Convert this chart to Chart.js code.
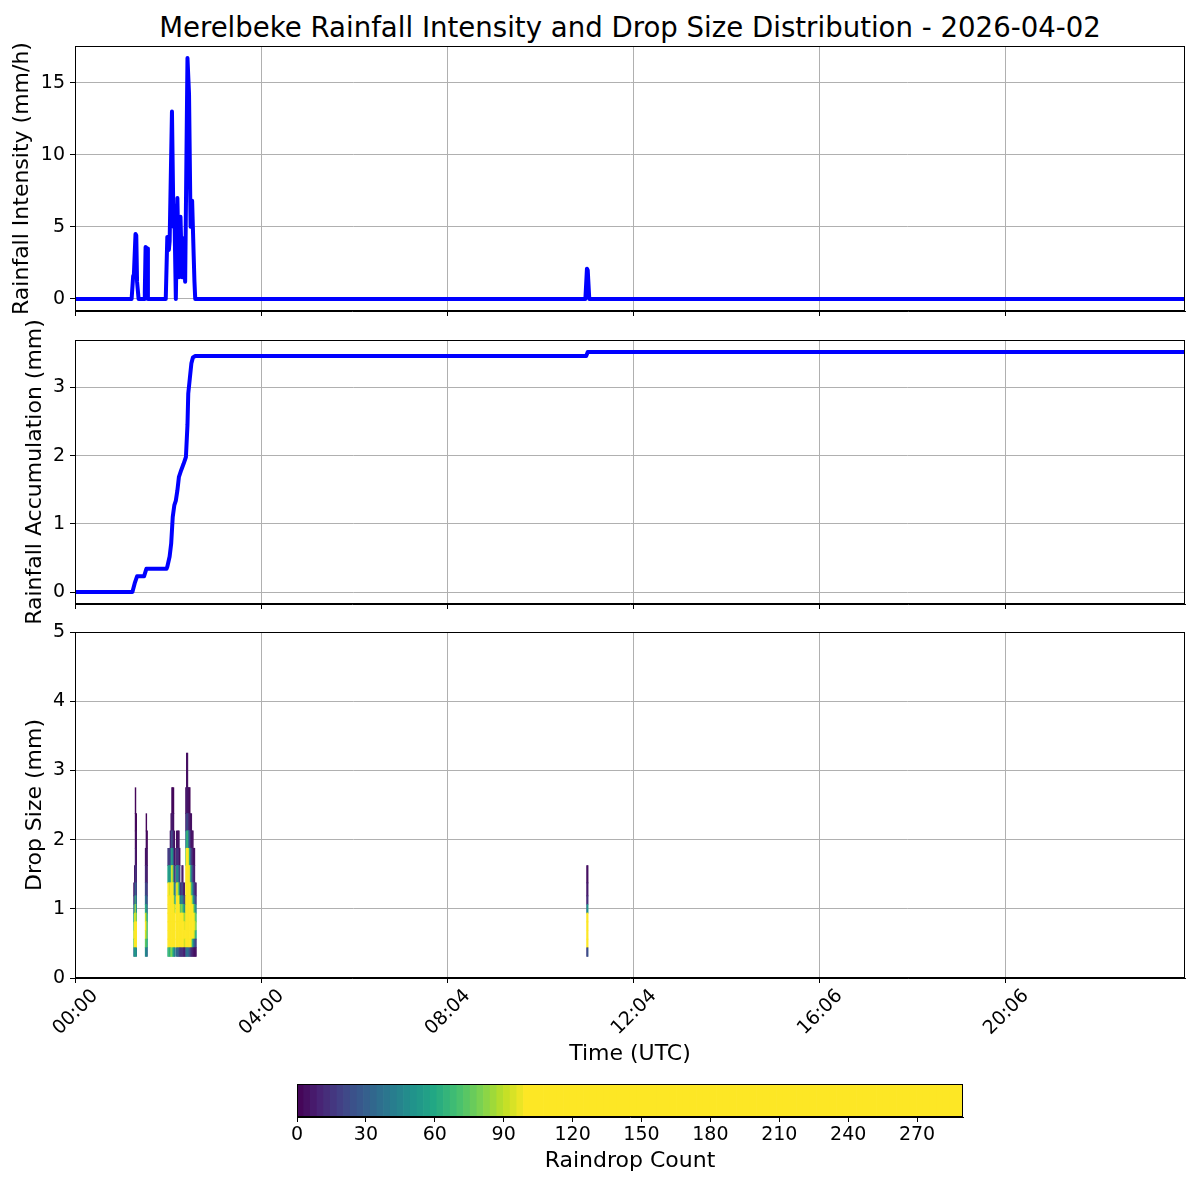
<!DOCTYPE html>
<html>
<head>
<meta charset="utf-8">
<script src="https://cdn.jsdelivr.net/npm/chart.js@4.4.1/dist/chart.umd.min.js"></script>
<style>
  body { margin: 0; background: #fff; }
  #wrap { position: relative; width: 1200px; height: 1200px; }
  canvas { position: absolute; left: 0; top: 0; }
  #title { position: absolute; left: 75px; width: 1110px; top: 11px; line-height: 34px;
           text-align: center; font-family: "DejaVu Sans"; font-size: 27.6px; color: #000; }
</style>
</head>
<body>
<div id="wrap">
  <div id="title">Merelbeke Rainfall Intensity and Drop Size Distribution - 2026-04-02</div>
  <canvas id="rate" width="1200" height="1200"></canvas>
  <canvas id="accum" width="1200" height="1200"></canvas>
  <canvas id="dsd" width="1200" height="1200"></canvas>
  <canvas id="cbar" width="1200" height="1200"></canvas>
</div>
<script>
'use strict';
// sample index along the day (one sample per minute, a few gaps)
const xMax = 1431;
const tickIdx = [0, 240, 480, 720, 960, 1200];
const tickLabels = ['00:00', '04:00', '08:04', '12:04', '16:06', '20:06'];

// rainfall intensity (mm/h), zero outside the listed samples
const rateIdx = [0, 73, 75, 76, 78, 79, 80, 82, 89, 90, 91, 93, 94, 117, 119, 121, 122, 125, 127, 128, 130,
  132, 134, 136, 138, 140, 142, 145, 147, 149, 151, 153, 154, 155, 658, 660, 661, 663, 1431];
const rateVal = [0, 0, 1.6, 1.8, 4.5, 4.4, 1.2, 0, 0, 0.5, 3.6, 3.5, 0, 0, 4.3, 3.4, 4.0, 13.0, 5.0, 6.5, 0,
  7.0, 1.5, 5.7, 1.5, 4.2, 1.2, 16.7, 14.2, 5.0, 6.8, 3.0, 1.2, 0, 0, 2.1, 2.0, 0, 0];

// accumulated rainfall (mm)
const accIdx = [0, 74, 77, 80, 89, 92, 118, 119, 122, 124, 126, 128, 130, 132, 134, 137, 140, 143,
  145, 146, 148, 150, 152, 155, 659, 661, 1431];
const accVal = [0, 0, 0.13, 0.23, 0.23, 0.34, 0.34, 0.37, 0.52, 0.71, 1.10, 1.27, 1.34, 1.49, 1.69,
  1.79, 1.88, 1.98, 2.45, 2.91, 3.13, 3.35, 3.44, 3.46, 3.46, 3.52, 3.52];

// drop size classes (mm) and raindrop counts per class for each sample with rain
const sizeCenters = [0.312, 0.437, 0.562, 0.687, 0.812, 0.937, 1.062, 1.187, 1.375, 1.625, 1.875,
  2.125, 2.375, 2.75, 3.25];
const dsdIdx = [76, 77, 78, 79, 91, 92, 93,
  120, 121, 122, 123, 124, 125, 126, 127, 128, 129,
  131, 132, 133, 134, 135, 136, 137, 138, 139, 140, 141, 142,
  143, 144, 145, 146, 147, 148, 149, 150, 151, 152, 153, 154, 155, 156,
  660, 661];
const dsdCounts = [
  [40, 80, 90, 80, 60, 35, 15, 6],
  [50, 110, 120, 110, 90, 60, 30, 12, 5],
  [60, 130, 150, 140, 120, 100, 70, 40, 20, 10, 5, 3, 2],
  [45, 100, 110, 100, 80, 55, 35, 20, 10, 5, 3, 2],
  [45, 70, 90, 100, 90, 60, 35, 20, 10, 5],
  [50, 80, 95, 100, 90, 65, 40, 25, 12, 6, 3, 2],
  [35, 60, 70, 70, 60, 40, 25, 15, 8, 4, 2],
  [60, 150, 160, 150, 130, 120, 110, 100, 60, 20],
  [70, 170, 180, 160, 140, 130, 115, 100, 55, 15],
  [60, 160, 170, 160, 140, 125, 110, 90, 50, 15],
  [70, 180, 190, 170, 150, 130, 115, 100, 60, 25, 6],
  [80, 200, 210, 190, 170, 150, 130, 110, 70, 35, 12, 4],
  [80, 220, 230, 210, 190, 170, 150, 130, 100, 60, 25, 8, 3],
  [70, 210, 220, 200, 180, 160, 140, 120, 90, 50, 20, 6, 2],
  [60, 190, 200, 180, 160, 140, 120, 100, 70, 35, 12, 4, 2],
  [50, 150, 160, 140, 120, 105, 90, 60, 30, 10, 3],
  [40, 130, 140, 120, 105, 90, 60, 35, 12, 4],
  [30, 150, 170, 160, 150, 130, 110, 90, 45, 12, 3],
  [35, 170, 190, 170, 160, 140, 120, 100, 50, 15, 4],
  [30, 160, 180, 160, 150, 130, 110, 85, 40, 12, 3],
  [25, 150, 170, 150, 140, 120, 100, 70, 30, 10, 3],
  [20, 140, 160, 140, 130, 110, 85, 50, 20, 5],
  [15, 120, 140, 120, 105, 80, 45, 15],
  [12, 110, 130, 110, 100, 70, 40, 12],
  [15, 120, 140, 120, 105, 85, 50, 25, 8],
  [12, 110, 130, 115, 100, 75, 40, 18, 6],
  [10, 100, 120, 105, 95, 65, 30, 10],
  [10, 95, 115, 100, 90, 55, 25, 8],
  [8, 90, 110, 95, 80, 45, 15],
  [30, 180, 220, 220, 200, 180, 160, 140, 115, 80, 35, 10, 3],
  [35, 200, 250, 260, 240, 220, 200, 180, 150, 110, 60, 20, 6, 3],
  [40, 210, 260, 270, 250, 230, 210, 190, 160, 120, 70, 25, 8, 3],
  [35, 200, 250, 260, 240, 220, 200, 170, 140, 105, 50, 15, 4],
  [30, 180, 230, 240, 220, 200, 180, 150, 120, 90, 35, 10, 3],
  [25, 160, 210, 220, 200, 180, 160, 130, 100, 60, 22, 7, 2],
  [20, 140, 190, 200, 180, 160, 130, 100, 70, 35, 12, 4],
  [15, 120, 170, 180, 160, 140, 110, 80, 50, 22, 8, 3],
  [10, 80, 150, 160, 140, 120, 90, 60, 30, 12, 4],
  [8, 60, 130, 140, 120, 105, 75, 45, 20, 8, 3],
  [6, 45, 110, 120, 105, 90, 55, 30, 12, 5],
  [5, 35, 95, 110, 100, 75, 40, 20, 8, 4],
  [4, 25, 80, 95, 85, 60, 30, 12],
  [3, 18, 60, 80, 70, 45, 20, 8],
  [20, 110, 130, 120, 110, 40, 10, 8, 5],
  [25, 100, 120, 110, 100, 50, 12, 6, 4]
];

// colour scale
const cbarMax = 290;
const cbarLevels = 100;
const satCount = 100;
const cbarTicks = [0, 30, 60, 90, 120, 150, 180, 210, 240, 270];

const viridisStops = ['#440154', '#482475', '#414487', '#355f8d', '#2a788e', '#21918c',
  '#22a884', '#44bf70', '#7ad151', '#bddf26', '#fde725'];

function hexRgb(h) {
  return [parseInt(h.slice(1, 3), 16), parseInt(h.slice(3, 5), 16), parseInt(h.slice(5, 7), 16)];
}
function viridis(t) {
  t = Math.max(0, Math.min(1, t));
  const p = t * (viridisStops.length - 1);
  const i = Math.min(Math.floor(p), viridisStops.length - 2);
  const f = p - i;
  const a = hexRgb(viridisStops[i]);
  const b = hexRgb(viridisStops[i + 1]);
  const c = a.map((v, k) => Math.round(v + (b[k] - v) * f));
  return `rgb(${c[0]},${c[1]},${c[2]})`;
}
const levelStep = cbarMax / cbarLevels;
function countColor(n) {
  const mid = (Math.floor(n / levelStep) + 0.5) * levelStep;
  return viridis(mid / satCount);
}

const tickFont = { size: 19 };
const labelFont = { size: 22 };
Chart.defaults.font.family = '"DejaVu Sans"';
Chart.defaults.color = '#000';

const frame = {
  id: 'frame',
  afterDraw(chart) {
    const a = chart.chartArea;
    const ctx = chart.ctx;
    ctx.save();
    ctx.strokeStyle = '#000';
    ctx.lineWidth = 1;
    const l = Math.round(a.left) + 0.5, t = Math.round(a.top) + 0.5;
    const r = Math.round(a.right) - 0.5, b = Math.round(a.bottom) - 0.5;
    ctx.strokeRect(l, t, r - l, b - t);
    ctx.restore();
  }
};

function timeAxis(showLabels, z) {
  return {
    type: 'linear', min: 0, max: xMax, offset: false, z: z || 0,
    afterBuildTicks: s => { s.ticks = tickIdx.map(v => ({value: v})); },
    afterFit: s => { s.height = showLabels ? 90 : 11; s.paddingLeft = 0; s.paddingRight = 0; },
    ticks: {
      display: showLabels, autoSkip: false, maxRotation: 45, minRotation: 45,
      labelOffset: 20, padding: 2, font: tickFont,
      callback: v => tickLabels[tickIdx.indexOf(v)]
    },
    grid: { color: '#b0b0b0', lineWidth: 1, tickColor: '#000', tickLength: 5, offset: false },
    border: { color: '#000', width: 1 },
    title: { display: showLabels, text: 'Time (UTC)', font: labelFont, padding: { top: 0, bottom: 1 } }
  };
}

function valueAxis(lo, hi, ticks, title, titlePad, z) {
  return {
    type: 'linear', min: lo, max: hi, z: z || 0,
    afterBuildTicks: s => { s.ticks = ticks.map(v => ({value: v})); },
    afterFit: s => { s.width = 75; s.paddingTop = 0; s.paddingBottom = 0; },
    ticks: { padding: 5, font: tickFont },
    grid: { color: '#b0b0b0', lineWidth: 1, tickColor: '#000', tickLength: 5 },
    border: { color: '#000', width: 1 },
    title: { display: true, text: title, font: labelFont, padding: { top: titlePad, bottom: 0 } }
  };
}

function baseOptions(padding) {
  return {
    responsive: false, animation: false, events: [],
    layout: { padding: padding },
    plugins: { legend: { display: false }, tooltip: { enabled: false } }
  };
}

function lineChart(id, xs, ys, yAxis, padding) {
  const opts = baseOptions(padding);
  opts.scales = { x: timeAxis(false), y: yAxis };
  return new Chart(document.getElementById(id), {
    type: 'line',
    data: {
      datasets: [{
        data: xs.map((x, i) => ({x: x, y: ys[i]})),
        borderColor: '#0000ff', borderWidth: 4, pointRadius: 0, tension: 0, fill: false,
        borderJoinStyle: 'round', borderCapStyle: 'round'
      }]
    },
    options: opts,
    plugins: [frame]
  });
}

// every canvas covers the full page; padding places each plot area
lineChart('rate', rateIdx, rateVal,
  valueAxis(-0.835, 17.535, [0, 5, 10, 15], 'Rainfall Intensity (mm/h)', 9),
  { left: 0, right: 15, top: 46, bottom: 878 });

lineChart('accum', accIdx, accVal,
  valueAxis(-0.176, 3.696, [0, 1, 2, 3], 'Rainfall Accumulation (mm)', 22),
  { left: 0, right: 15, top: 340, bottom: 585 });

// drop size distribution: one bar dataset per size class
const cellSets = [];
for (let j = 0; j < sizeCenters.length - 1; j++) {
  const pts = [];
  const cols = [];
  dsdIdx.forEach((t, i) => {
    const c = dsdCounts[i];
    if (j < c.length) {
      pts.push({x: t, y: [sizeCenters[j], sizeCenters[j + 1]]});
      cols.push(countColor(c[j]));
    }
  });
  cellSets.push({
    data: pts, backgroundColor: cols, borderWidth: 0,
    barPercentage: 1, categoryPercentage: 1, grouped: false
  });
}

const dsdOpts = baseOptions({ left: 0, right: 15, top: 632, bottom: 132 });
dsdOpts.scales = {
  x: timeAxis(true, 1),
  y: valueAxis(0, 5, [0, 1, 2, 3, 4, 5], 'Drop Size (mm)', 22, 1)
};
new Chart(document.getElementById('dsd'), {
  type: 'bar',
  data: { datasets: cellSets },
  options: dsdOpts,
  plugins: [frame]
});

// colour bar
const cbarPts = [];
const cbarCols = [];
for (let i = 0; i < cbarLevels; i++) {
  const mid = (i + 0.5) * levelStep;
  cbarPts.push({x: mid, y: [0, 1]});
  cbarCols.push(viridis(mid / satCount));
}
const cbarOpts = baseOptions({ left: 297, right: 237, top: 1084, bottom: 0 });
cbarOpts.scales = {
  x: {
    type: 'linear', min: 0, max: cbarMax, offset: false,
    afterBuildTicks: s => { s.ticks = cbarTicks.map(v => ({value: v})); },
    afterFit: s => { s.height = 83; s.paddingLeft = 0; s.paddingRight = 0; },
    ticks: { maxRotation: 0, padding: 2, font: tickFont },
    grid: { drawOnChartArea: false, tickColor: '#000', tickLength: 5, offset: false },
    border: { color: '#000', width: 1 },
    title: { display: true, text: 'Raindrop Count', font: labelFont, padding: { top: 0, bottom: 26 } }
  },
  y: { display: false, min: 0, max: 1 }
};
new Chart(document.getElementById('cbar'), {
  type: 'bar',
  data: {
    datasets: [{
      data: cbarPts, backgroundColor: cbarCols, borderWidth: 0,
      barPercentage: 1, categoryPercentage: 1
    }]
  },
  options: cbarOpts,
  plugins: [frame]
});
</script>
</body>
</html>
